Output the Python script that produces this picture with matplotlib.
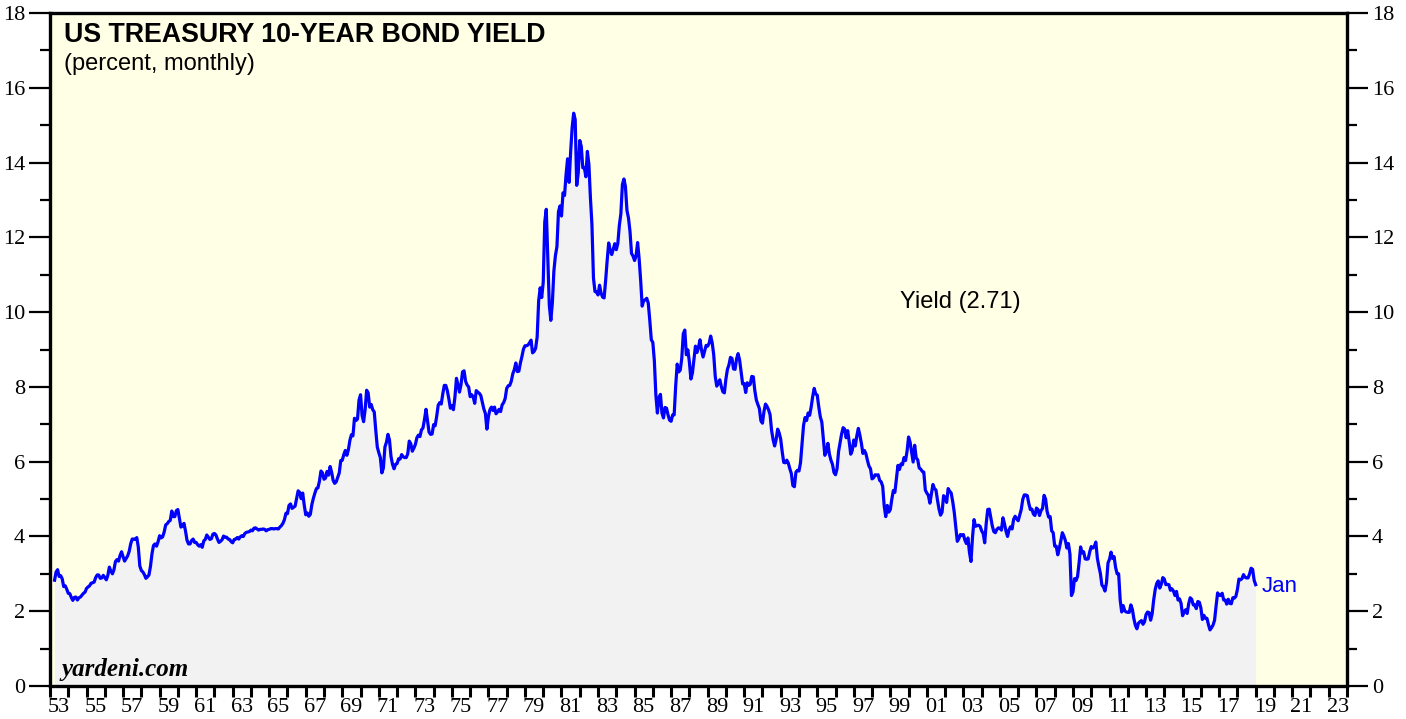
import numpy as np
import matplotlib
matplotlib.use("Agg")
import matplotlib.pyplot as plt

# monthly 10-year treasury yield, percent, Apr 1953 .. Jan 2019
start_year, start_month = 1953, 4
y1950s = [2.83, 3.05, 3.11, 2.93, 2.95, 2.87, 2.66, 2.68, 2.59,
          2.48, 2.47, 2.37, 2.29, 2.37, 2.38, 2.30, 2.36, 2.38, 2.43, 2.48, 2.51,
          2.61, 2.65, 2.68, 2.75, 2.76, 2.78, 2.90, 2.97, 2.97, 2.88, 2.89, 2.96,
          2.90, 2.84, 2.96, 3.18, 3.07, 3.00, 3.11, 3.33, 3.38, 3.34, 3.49, 3.59,
          3.46, 3.34, 3.41, 3.48, 3.60, 3.80, 3.93, 3.93, 3.92, 3.97, 3.72, 3.21,
          3.09, 3.05, 2.98, 2.88, 2.92, 2.97, 3.20, 3.54, 3.76, 3.80, 3.74, 3.86,
          4.02, 3.96, 3.99, 4.12, 4.31, 4.34, 4.40, 4.43, 4.68, 4.53, 4.53, 4.69]
y1960s = [4.72, 4.49, 4.25, 4.28, 4.35, 4.15, 3.90, 3.80, 3.80, 3.89, 3.93, 3.84,
          3.84, 3.78, 3.74, 3.78, 3.71, 3.88, 3.92, 4.04, 3.98, 3.92, 3.94, 4.06,
          4.08, 4.04, 3.93, 3.84, 3.87, 3.91, 4.01, 3.98, 3.98, 3.93, 3.92, 3.86,
          3.83, 3.92, 3.93, 3.97, 3.93, 3.99, 4.02, 4.00, 4.08, 4.11, 4.12, 4.13,
          4.17, 4.15, 4.22, 4.23, 4.20, 4.17, 4.19, 4.19, 4.20, 4.19, 4.15, 4.18,
          4.19, 4.21, 4.21, 4.20, 4.21, 4.21, 4.20, 4.25, 4.29, 4.35, 4.45, 4.62,
          4.61, 4.83, 4.87, 4.75, 4.78, 4.81, 5.02, 5.22, 5.18, 5.01, 5.16, 4.84,
          4.58, 4.63, 4.54, 4.59, 4.85, 5.02, 5.16, 5.28, 5.30, 5.48, 5.75, 5.70,
          5.53, 5.56, 5.74, 5.64, 5.87, 5.72, 5.50, 5.42, 5.46, 5.58, 5.70, 6.03,
          6.04, 6.19, 6.30, 6.17, 6.32, 6.57, 6.72, 6.69, 7.16, 7.10, 7.14, 7.65]
y1970s = [7.79, 7.24, 7.07, 7.39, 7.91, 7.84, 7.46, 7.53, 7.39, 7.33, 6.84, 6.39,
          6.24, 6.11, 5.70, 5.83, 6.39, 6.52, 6.73, 6.58, 6.14, 5.93, 5.81, 5.93,
          5.95, 6.08, 6.07, 6.19, 6.13, 6.11, 6.11, 6.21, 6.55, 6.48, 6.28, 6.36,
          6.46, 6.64, 6.71, 6.67, 6.85, 6.90, 7.13, 7.40, 7.09, 6.79, 6.73, 6.74,
          6.99, 6.96, 7.21, 7.51, 7.58, 7.54, 7.81, 8.04, 8.04, 7.90, 7.68, 7.43,
          7.50, 7.39, 7.73, 8.23, 8.06, 7.86, 8.06, 8.40, 8.43, 8.15, 8.05, 8.00,
          7.74, 7.79, 7.73, 7.56, 7.90, 7.86, 7.83, 7.77, 7.59, 7.41, 7.29, 6.87,
          7.21, 7.39, 7.46, 7.37, 7.46, 7.28, 7.33, 7.40, 7.34, 7.52, 7.58, 7.69,
          7.96, 8.03, 8.04, 8.15, 8.35, 8.46, 8.64, 8.41, 8.42, 8.64, 8.81, 9.01,
          9.10, 9.10, 9.12, 9.18, 9.25, 8.91, 8.95, 9.03, 9.33, 10.30, 10.65, 10.39]
y1980s = [10.80, 12.41, 12.75, 11.47, 10.18, 9.78, 10.25, 11.10, 11.51, 11.75, 12.68, 12.84,
          12.57, 13.19, 13.12, 13.68, 14.10, 13.47, 14.28, 14.94, 15.32, 15.15, 13.39, 13.72,
          14.59, 14.43, 13.86, 13.87, 13.62, 14.30, 13.95, 13.06, 12.34, 10.91, 10.55, 10.54,
          10.46, 10.72, 10.51, 10.40, 10.38, 10.85, 11.38, 11.85, 11.65, 11.54, 11.69, 11.83,
          11.67, 11.84, 12.32, 12.63, 13.41, 13.56, 13.36, 12.72, 12.52, 12.16, 11.57, 11.50,
          11.38, 11.51, 11.86, 11.43, 10.85, 10.16, 10.31, 10.33, 10.37, 10.24, 9.78, 9.26,
          9.19, 8.70, 7.78, 7.30, 7.71, 7.80, 7.30, 7.17, 7.45, 7.43, 7.25, 7.11,
          7.08, 7.25, 7.25, 8.02, 8.61, 8.40, 8.45, 8.76, 9.42, 9.52, 8.86, 8.99,
          8.67, 8.21, 8.37, 8.72, 9.09, 8.92, 9.06, 9.26, 8.98, 8.80, 8.96, 9.11,
          9.09, 9.17, 9.36, 9.18, 8.86, 8.28, 8.02, 8.11, 8.19, 8.01, 7.87, 7.84]
y1990s = [8.21, 8.47, 8.59, 8.79, 8.76, 8.48, 8.47, 8.75, 8.89, 8.72, 8.39, 8.08,
          8.09, 7.85, 8.11, 8.04, 8.07, 8.28, 8.27, 7.90, 7.65, 7.53, 7.42, 7.09,
          7.03, 7.34, 7.54, 7.48, 7.39, 7.26, 6.84, 6.59, 6.42, 6.59, 6.87, 6.77,
          6.60, 6.26, 5.98, 5.97, 6.04, 5.96, 5.81, 5.68, 5.36, 5.33, 5.72, 5.77,
          5.75, 5.97, 6.48, 6.97, 7.18, 7.10, 7.30, 7.24, 7.46, 7.74, 7.96, 7.81,
          7.78, 7.47, 7.20, 7.06, 6.63, 6.17, 6.28, 6.49, 6.20, 6.04, 5.93, 5.71,
          5.65, 5.81, 6.27, 6.51, 6.74, 6.91, 6.87, 6.64, 6.83, 6.53, 6.20, 6.30,
          6.58, 6.42, 6.69, 6.89, 6.71, 6.49, 6.22, 6.30, 6.21, 6.03, 5.88, 5.81,
          5.54, 5.57, 5.65, 5.64, 5.65, 5.50, 5.46, 5.34, 4.81, 4.53, 4.83, 4.65,
          4.72, 5.00, 5.23, 5.18, 5.54, 5.90, 5.79, 5.94, 5.92, 6.11, 6.03, 6.28]
y2000s = [6.66, 6.52, 6.26, 5.99, 6.44, 6.10, 6.05, 5.83, 5.80, 5.74, 5.72, 5.24,
          5.16, 5.10, 4.89, 5.14, 5.39, 5.28, 5.24, 4.97, 4.73, 4.57, 4.65, 5.09,
          5.04, 4.91, 5.28, 5.21, 5.16, 4.93, 4.65, 4.26, 3.87, 3.94, 4.05, 4.03,
          4.05, 3.90, 3.81, 3.96, 3.57, 3.33, 3.98, 4.45, 4.27, 4.29, 4.30, 4.27,
          4.15, 4.08, 3.83, 4.35, 4.72, 4.73, 4.50, 4.28, 4.13, 4.10, 4.19, 4.23,
          4.22, 4.17, 4.50, 4.34, 4.14, 4.00, 4.18, 4.26, 4.20, 4.46, 4.54, 4.47,
          4.42, 4.57, 4.72, 4.99, 5.11, 5.11, 5.09, 4.88, 4.72, 4.73, 4.60, 4.56,
          4.76, 4.72, 4.56, 4.69, 4.75, 5.10, 5.00, 4.67, 4.52, 4.53, 4.15, 4.10,
          3.74, 3.74, 3.51, 3.68, 3.88, 4.10, 4.01, 3.89, 3.69, 3.81, 3.53, 2.42,
          2.52, 2.87, 2.82, 2.93, 3.29, 3.72, 3.56, 3.59, 3.40, 3.39, 3.40, 3.59]
y2010s = [3.73, 3.69, 3.73, 3.85, 3.42, 3.20, 3.01, 2.70, 2.65, 2.54, 2.76, 3.29,
          3.39, 3.58, 3.41, 3.46, 3.17, 3.00, 3.00, 2.30, 1.98, 2.15, 2.01, 1.98,
          1.97, 1.97, 2.17, 2.05, 1.80, 1.62, 1.53, 1.68, 1.72, 1.75, 1.65, 1.72,
          1.91, 1.98, 1.96, 1.76, 1.93, 2.30, 2.58, 2.74, 2.81, 2.62, 2.72, 2.90,
          2.86, 2.71, 2.72, 2.71, 2.56, 2.60, 2.54, 2.42, 2.53, 2.30, 2.33, 2.21,
          1.88, 1.98, 2.04, 1.94, 2.20, 2.36, 2.32, 2.17, 2.17, 2.07, 2.26, 2.24,
          2.09, 1.78, 1.89, 1.81, 1.81, 1.64, 1.50, 1.56, 1.63, 1.76, 2.14, 2.49,
          2.43, 2.42, 2.48, 2.30, 2.30, 2.19, 2.32, 2.21, 2.20, 2.36, 2.35, 2.40,
          2.58, 2.86, 2.84, 2.87, 2.98, 2.91, 2.89, 2.89, 3.00, 3.15, 3.12, 2.83,
          2.71]

yld = np.array(y1950s + y1960s + y1970s + y1980s + y1990s + y2000s + y2010s)
t = start_year + (start_month - 1 + np.arange(len(yld))) / 12.0

year_labels = [f"{y % 100:02d}" for y in range(1953, 2024, 2)]

fig = plt.figure(figsize=(14.06, 7.19), dpi=100)
ax = fig.add_axes([50 / 1406, 33 / 719, 1297 / 1406, 673 / 719])
ax.set_facecolor("#ffffe6")

ax.fill_between(t, 0, yld, color="#f2f2f2", lw=0)
ax.plot(t, yld, color="#0000ff", lw=2.3)

ax.set_xlim(1953, 2024)
ax.set_ylim(0, 18)

for s in ax.spines.values():
    s.set_linewidth(2.4)

ax.set_yticks(np.arange(0, 19, 2))
ax.set_yticks(np.arange(1, 18, 2), minor=True)
ax.tick_params(axis="y", which="major", direction="out", length=15, width=1.6,
               left=True, right=True, labelleft=True, labelright=True,
               labelsize=16, pad=3)
ax.tick_params(axis="y", which="minor", direction="out", length=7, width=1.6,
               left=True, right=True)

ax.set_xticks(np.arange(1953, 2025, 1), minor=True)
ax.set_xticks(np.arange(1953.5, 2024, 2))
ax.set_xticklabels(year_labels)
ax.tick_params(axis="x", which="minor", direction="out", length=8, width=2.2)
ax.tick_params(axis="x", which="major", length=0, labelsize=16, pad=9)

for lab in ax.get_xticklabels() + ax.get_yticklabels():
    lab.set_fontfamily("Liberation Serif")

ax.text(0.011, 0.968, "US TREASURY 10-YEAR BOND YIELD", transform=ax.transAxes,
        fontsize=19.3, fontweight="bold", family="Liberation Sans", va="center")
ax.text(0.011, 0.924, "(percent, monthly)", transform=ax.transAxes,
        fontsize=17, family="Liberation Sans", va="center")
ax.text(0.702, 0.570, "Yield (2.71)", transform=ax.transAxes,
        fontsize=17, family="Liberation Sans", ha="center", va="center")
ax.text(t[-1] + 0.35, yld[-1] - 0.05, "Jan", color="#0000ff",
        fontsize=16, family="Liberation Sans", va="center")
ax.text(0.009, 0.025, "yardeni.com", transform=ax.transAxes,
        fontsize=18, fontweight="bold", style="italic", family="Liberation Serif",
        va="center")

fig.savefig("out.png", dpi=100)
